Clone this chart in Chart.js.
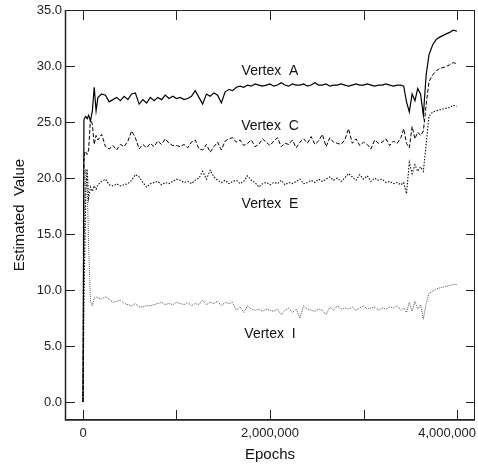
<!DOCTYPE html>
<html>
<head>
<meta charset="utf-8">
<script src="https://cdn.jsdelivr.net/npm/chart.js@4.4.1/dist/chart.umd.min.js"></script>
<style>
  body { margin: 0; background: #fff; }
  canvas { display: block; }
</style>
</head>
<body>
<canvas id="myChart" width="478" height="466"></canvas>
<script>
// epochs (x values), dense at start and around the jump near the end
const epochs = [
  0, 10000, 20000, 30000, 45000, 60000, 80000, 100000, 120000, 140000,
  160000, 200000, 240000, 280000, 320000, 360000, 400000, 440000, 480000, 520000,
  560000, 600000, 640000, 680000, 720000, 760000, 800000, 840000, 880000, 920000,
  960000, 1000000, 1040000, 1080000, 1120000, 1160000, 1200000, 1240000, 1280000, 1320000,
  1360000, 1400000, 1440000, 1480000, 1520000, 1560000, 1600000, 1640000, 1680000, 1720000,
  1760000, 1800000, 1840000, 1880000, 1920000, 1960000, 2000000, 2040000, 2080000, 2120000,
  2160000, 2200000, 2240000, 2280000, 2320000, 2360000, 2400000, 2440000, 2480000, 2520000,
  2560000, 2600000, 2640000, 2680000, 2720000, 2760000, 2800000, 2840000, 2880000, 2920000,
  2960000, 3000000, 3040000, 3080000, 3120000, 3160000, 3200000, 3240000, 3280000, 3320000,
  3360000, 3400000,
  3430000, 3460000, 3490000, 3520000, 3550000, 3580000, 3610000, 3640000, 3670000, 3700000,
  3740000, 3780000, 3820000, 3870000, 3920000, 3960000, 4000000
];

const vertexA = [
  0, 25.2, 25.4, 25.5, 25.3, 25.6, 25.1, 26.0, 28.1, 26.0,
  27.2, 27.5, 27.4, 26.8, 27.0, 27.2, 26.9, 27.3, 27.0, 27.5,
  27.6, 26.6, 27.0, 26.7, 27.2, 26.9, 27.2, 27.0, 27.4, 27.1,
  27.3, 27.1, 27.2, 27.0, 27.1, 27.3, 27.8, 27.2, 26.6, 27.5,
  27.3, 27.6, 27.4, 26.7, 27.7, 27.9, 27.8, 28.1, 28.2, 28.1,
  28.3, 28.2, 28.4, 28.3, 28.2, 28.3, 28.4, 28.2, 28.3, 28.5,
  28.3, 28.2, 28.4, 28.3, 28.3, 28.4, 28.2, 28.3, 28.5, 28.3,
  28.3, 28.4, 28.2, 28.3, 28.3, 28.4, 28.3, 28.2, 28.3, 28.4,
  28.3, 28.3, 28.4, 28.3, 28.2, 28.3, 28.3, 28.4, 28.3, 28.2,
  28.3, 28.3,
  28.2, 26.8, 25.9, 27.5, 26.9, 28.0, 27.5, 25.6, 29.2, 31.0,
  31.9, 32.4, 32.6, 32.8, 33.0, 33.2, 33.1
];

const vertexC = [
  0, 21.5, 22.4, 22.3, 22.1, 22.5, 25.3, 24.8, 23.0, 23.8,
  23.4, 23.9, 22.8, 22.6, 22.9, 22.5, 23.0, 22.8, 23.3, 24.2,
  23.6, 22.6, 23.0, 22.7, 23.1, 22.8, 23.3, 23.0, 23.5, 23.1,
  22.9, 22.9, 22.8, 23.0, 22.7, 23.2, 23.4, 22.6, 22.5, 23.0,
  22.3, 22.8, 23.2, 22.5, 23.3, 23.5, 23.6, 23.2, 23.4, 22.9,
  23.1, 23.4, 22.8, 23.0, 23.5, 23.2, 22.9, 23.3, 23.6, 22.8,
  23.1, 23.0, 23.4, 22.7, 23.2, 23.5, 23.1, 23.7, 23.0, 23.3,
  23.9, 22.8, 23.6, 23.2, 23.1, 23.0, 23.4, 24.4, 23.1, 23.5,
  22.9, 23.2, 23.0, 22.6, 23.4, 23.1, 23.2, 23.5, 22.9, 23.3,
  23.1, 23.6,
  24.4, 23.1, 22.7, 24.6, 23.5, 24.1, 23.8, 24.2, 26.5, 28.6,
  29.2, 29.6, 29.8, 29.9, 30.1, 30.3, 30.2
];

const vertexE = [
  0, 8.8, 14.0, 18.5, 20.8, 18.2, 19.2, 18.8, 19.3, 19.0,
  19.4, 19.7, 19.9, 19.4, 19.3, 19.5, 19.3, 19.4, 19.5, 19.8,
  20.3, 20.1, 19.6, 19.2, 19.5, 19.6, 19.7, 19.4, 19.6, 19.5,
  19.7, 19.9, 19.8, 19.6, 19.7, 19.5, 19.8, 20.0, 20.6, 19.9,
  20.7, 20.1, 19.8, 19.6, 19.8, 19.5, 19.7, 19.8, 19.5, 19.7,
  20.2, 19.8, 19.6, 19.2, 19.5, 19.6, 19.4, 19.6, 19.5, 19.8,
  19.4, 19.6, 19.5, 19.7, 19.9, 19.5, 19.6, 19.8, 19.6, 19.9,
  19.7, 19.9, 20.1, 19.8, 20.0, 19.7, 20.0, 20.4, 20.1, 19.8,
  20.3, 19.9, 20.2, 19.7, 20.0, 19.8, 19.9, 19.6, 19.7, 19.5,
  19.6, 19.4,
  19.6, 18.6, 21.4, 20.4, 21.2, 20.6, 21.0, 20.6, 23.0, 25.5,
  25.9, 26.0, 26.1, 26.2, 26.3, 26.5, 26.4
];

const vertexI = [
  0, 12.0, 17.5, 20.8, 19.5, 14.0, 9.0, 8.6, 9.3, 9.4,
  9.3, 9.2, 9.4, 9.2, 8.9, 9.0, 9.1, 8.8, 8.7, 8.6,
  8.8, 8.5, 8.5, 8.6, 8.6, 8.7, 8.8, 8.9, 8.7, 8.8,
  8.7, 8.9, 8.8, 8.7, 8.9, 8.6, 8.8, 8.7, 9.1, 8.7,
  8.9, 8.8, 9.0, 8.6, 8.9, 8.8, 8.9, 8.2, 8.5, 8.0,
  8.6, 8.3, 8.2, 8.3, 8.1, 8.3, 8.2, 8.1, 8.3, 7.8,
  8.2, 8.4, 8.0, 8.3, 7.5, 8.6, 8.3, 8.2, 8.1, 8.3,
  8.2, 7.8, 8.5, 8.2, 8.6, 8.3, 8.4, 8.3, 8.5, 8.2,
  8.4, 8.6, 8.3, 8.4, 8.5, 8.2, 8.4, 8.3, 8.5, 8.4,
  8.6, 8.2,
  8.4, 8.0, 8.9, 8.1, 9.0, 8.3, 8.7, 7.4, 8.8, 9.7,
  9.9, 10.1, 10.2, 10.3, 10.4, 10.5, 10.5
];

const seriesNames = ['Vertex  A', 'Vertex  C', 'Vertex  E', 'Vertex  I'];
const yTicks = [0, 5, 10, 15, 20, 25, 30, 35];
const xTickMarks = [0, 1000000, 2000000, 3000000, 4000000];
const xTickLabels = [0, 2000000, 4000000];

// where the in-plot labels sit (x epoch, y value)
const labelEpoch = 2000000;
const labelValue = [29.5, 24.6, 17.7, 6.1];

const FONT = '"Liberation Sans", Arial, Helvetica, sans-serif';

function pts(vals) {
  return epochs.map((e, i) => ({ x: e, y: vals[i] }));
}

// frame, inward ticks, x tick labels and series labels
const framePlugin = {
  id: 'frame',
  afterDraw(chart) {
    const { ctx, chartArea: a, scales } = chart;
    const xs = scales.x, ys = scales.y;
    ctx.save();
    ctx.strokeStyle = '#222';
    ctx.lineWidth = 1;
    ctx.strokeRect(a.left + 0.5, a.top + 0.5, a.right - a.left - 1, a.bottom - a.top - 1);
    ctx.lineWidth = 1.5;
    ctx.beginPath();
    ctx.moveTo(a.left + 0.5, a.top);
    ctx.lineTo(a.left + 0.5, a.bottom);
    ctx.lineTo(a.right, a.bottom);
    ctx.stroke();
    ctx.lineWidth = 1;
    ctx.beginPath();
    yTicks.forEach(v => {
      const y = Math.round(ys.getPixelForValue(v)) + 0.5;
      if (y < a.top + 3) return;
      ctx.moveTo(a.left, y); ctx.lineTo(a.left + 10, y);
      ctx.moveTo(a.right, y); ctx.lineTo(a.right - 9, y);
    });
    xTickMarks.forEach(v => {
      const x = Math.round(xs.getPixelForValue(v)) + 0.5;
      ctx.moveTo(x, a.bottom); ctx.lineTo(x, a.bottom - 10);
      ctx.moveTo(x, a.top); ctx.lineTo(x, a.top + 10);
    });
    ctx.stroke();

    // x tick labels, last one kept inside the canvas
    ctx.fillStyle = '#222';
    ctx.font = '13px ' + FONT;
    ctx.textAlign = 'center';
    ctx.textBaseline = 'middle';
    xTickLabels.forEach(v => {
      const txt = v.toLocaleString('en-US');
      const w = ctx.measureText(txt).width;
      const x = Math.min(xs.getPixelForValue(v), chart.width - 2 - w / 2);
      ctx.fillText(txt, x, a.bottom + 13);
    });

    ctx.fillStyle = '#111';
    ctx.font = '14px ' + FONT;
    seriesNames.forEach((name, i) => {
      ctx.fillText(name, xs.getPixelForValue(labelEpoch), ys.getPixelForValue(labelValue[i]));
    });
    ctx.restore();
  }
};

const ctx = document.getElementById('myChart');

new Chart(ctx, {
  type: 'line',
  data: {
    datasets: [
      { label: seriesNames[0], data: pts(vertexA), borderColor: '#000', borderWidth: 1.2 },
      { label: seriesNames[1], data: pts(vertexC), borderColor: '#000', borderWidth: 1, borderDash: [4, 2] },
      { label: seriesNames[2], data: pts(vertexE), borderColor: '#111', borderWidth: 1.1, borderDash: [1.5, 1.5] },
      { label: seriesNames[3], data: pts(vertexI), borderColor: '#555', borderWidth: 1, borderDash: [1, 1] }
    ]
  },
  options: {
    responsive: false,
    animation: false,
    devicePixelRatio: 1,
    elements: { point: { radius: 0 }, line: { tension: 0 } },
    layout: { padding: { top: 10, right: 3, left: 0, bottom: 0 } },
    plugins: { legend: { display: false }, tooltip: { enabled: false } },
    scales: {
      x: {
        type: 'linear',
        min: -192500,
        max: 4192500,
        grid: { display: false, drawTicks: false },
        border: { display: false },
        afterBuildTicks: s => { s.ticks = xTickLabels.map(v => ({ value: v })); },
        afterFit: s => { s.height = 46; s.paddingLeft = 0; s.paddingRight = 0; },
        ticks: { display: false },
        title: {
          display: true,
          text: 'Epochs',
          color: '#111',
          font: { family: FONT, size: 15 },
          padding: { top: 0, bottom: 2 }
        }
      },
      y: {
        min: -1.6,
        max: 35,
        grid: { display: false, drawTicks: false },
        border: { display: false },
        afterBuildTicks: s => { s.ticks = yTicks.map(v => ({ value: v })); },
        afterFit: s => { s.width = 65; s.paddingTop = 0; s.paddingBottom = 0; },
        ticks: {
          padding: 3,
          color: '#222',
          font: { family: FONT, size: 13 },
          callback: v => v.toFixed(1)
        },
        title: {
          display: true,
          text: 'Estimated  Value',
          color: '#111',
          font: { family: FONT, size: 15 },
          padding: { top: 11, bottom: 0 }
        }
      }
    }
  },
  plugins: [framePlugin]
});
</script>
</body>
</html>
